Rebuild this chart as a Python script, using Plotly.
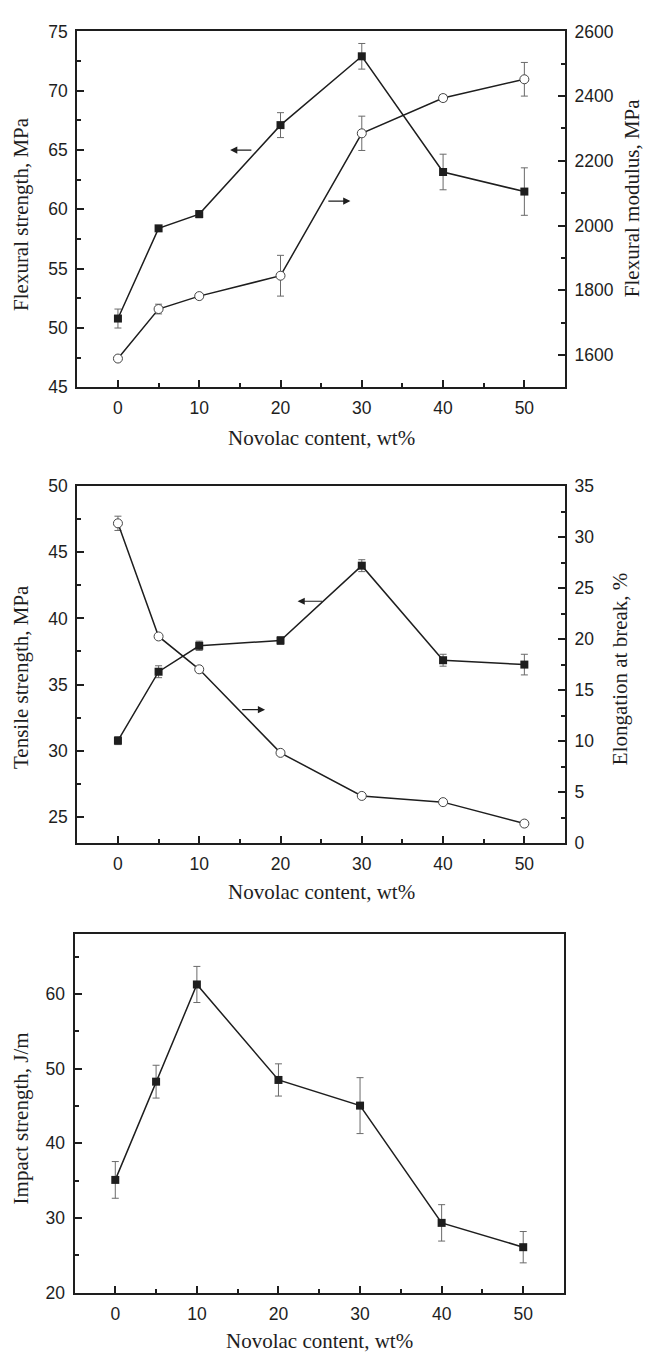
import plotly.graph_objects as go

# ---------------- data ----------------
novolac = [0, 5, 10, 20, 30, 40, 50]

flex_strength = [50.8, 58.4, 59.6, 67.1, 72.9, 63.15, 61.5]
flex_strength_err = [0.8, 0.2, 0.3, 1.05, 1.08, 1.5, 2.0]
flex_modulus = [1589, 1742, 1782, 1845, 2285, 2394, 2452]
flex_modulus_err = [5, 15, 8, 63, 53, 10, 52]

tensile_strength = [30.76, 35.97, 37.93, 38.33, 43.99, 36.84, 36.51]
tensile_strength_err = [0.3, 0.45, 0.35, 0.3, 0.45, 0.45, 0.78]
elongation = [31.36, 20.27, 17.05, 8.86, 4.64, 4.03, 1.93]
elongation_err = [0.7, 0.2, 0.25, 0.2, 0.2, 0.2, 0.3]

impact_strength = [35.1, 48.27, 61.3, 48.5, 45.06, 29.34, 26.08]
impact_strength_err = [2.46, 2.2, 2.42, 2.16, 3.75, 2.44, 2.1]

x_title = "Novolac content, wt%"
y_titles = ["Flexural strength, MPa", "Tensile strength, MPa", "Impact strength, J/m"]
y2_titles = ["Flexural modulus, MPa", "Elongation at break, %"]

# arrow annotations: (xref, yref, tail_x, tip_x, y)
arrows = [("x", "y", 16.6, 13.8, 65.0), ("x", "y", 25.7, 28.6, 60.7),
          ("x2", "y3", 25.3, 22.1, 41.3), ("x2", "y3", 15.1, 18.1, 33.1)]

# ---------------- style ----------------
W, H = 646, 1359
INK = "#1e1e1e"
ERR = "#6a6a6a"
TICKFONT = dict(family="Liberation Sans, Arial, sans-serif", size=17.5, color=INK)
TITLEFONT = dict(family="Liberation Serif, Times New Roman, serif", size=21, color=INK)


def px_x(p):
    return p / W


def px_y(p):
    return 1 - p / H


def sq_trace(y, err, xa, ya):
    return go.Scatter(
        x=novolac, y=y, xaxis=xa, yaxis=ya, mode="lines+markers",
        line=dict(color=INK, width=1.5),
        marker=dict(symbol="square", size=8, color=INK, line=dict(width=0)),
        error_y=dict(type="data", array=err, visible=True, color=ERR,
                     thickness=1, width=3.5),
        showlegend=False, cliponaxis=False)


def circ_trace(y, err, xa, ya):
    return go.Scatter(
        x=novolac, y=y, xaxis=xa, yaxis=ya, mode="lines+markers",
        line=dict(color=INK, width=1.5),
        marker=dict(symbol="circle", size=9, color="white",
                    line=dict(color="#444444", width=1)),
        error_y=dict(type="data", array=err, visible=True, color=ERR,
                     thickness=1, width=3.5),
        showlegend=False, cliponaxis=False)


fig = go.Figure()
fig.add_trace(circ_trace(flex_modulus, flex_modulus_err, "x", "y2"))
fig.add_trace(sq_trace(flex_strength, flex_strength_err, "x", "y"))
fig.add_trace(circ_trace(elongation, elongation_err, "x2", "y4"))
fig.add_trace(sq_trace(tensile_strength, tensile_strength_err, "x2", "y3"))
fig.add_trace(sq_trace(impact_strength, impact_strength_err, "x3", "y5"))


def xaxis(dom, anchor):
    return dict(domain=dom, anchor=anchor, range=[-5, 55], tickvals=[0, 10, 20, 30, 40, 50],
                ticks="inside", ticklen=7, tickwidth=1.5, tickcolor=INK,
                minor=dict(dtick=5, tick0=0, ticks="inside", ticklen=4, tickwidth=1.5, tickcolor=INK),
                showline=True, linecolor=INK, linewidth=2, mirror=True,
                showgrid=False, zeroline=False, tickfont=TICKFONT, ticklabelstandoff=4)


def yaxis(dom, anchor, rng, dtick, minor, side="left", overlaying=None, mirror=False):
    d = dict(domain=dom, anchor=anchor, range=rng, dtick=dtick, tick0=0,
             ticks="inside", ticklen=7, tickwidth=1.5, tickcolor=INK,
             minor=dict(dtick=minor, tick0=0, ticks="inside", ticklen=4, tickwidth=1.5, tickcolor=INK),
             showline=True, linecolor=INK, linewidth=2, mirror=mirror,
             showgrid=False, zeroline=False, tickfont=TICKFONT, side=side,
             ticklabelstandoff=4)
    if overlaying:
        d["overlaying"] = overlaying
    return d


xd12 = [px_x(77.3), px_x(565)]
xd3 = [px_x(74.5), px_x(564)]
yd1 = [px_y(383.0), px_y(21.7)]
yd2 = [px_y(845.7), px_y(483.3)]
yd3 = [px_y(1301.7), px_y(938.3)]

fig.update_layout(
    width=W, height=H, margin=dict(l=0, r=0, t=0, b=0),
    paper_bgcolor="white", plot_bgcolor="white",
    xaxis=xaxis(xd12, "y"),
    yaxis=yaxis(yd1, "x", [45, 75], 5, 2.5),
    yaxis2=yaxis(yd1, "x", [1500, 2600], 200, 100, side="right", overlaying="y"),
    xaxis2=xaxis(xd12, "y3"),
    yaxis3=yaxis(yd2, "x2", [23, 50], 5, 2.5),
    yaxis4=yaxis(yd2, "x2", [0, 35], 5, 2.5, side="right", overlaying="y3"),
    xaxis3=xaxis(xd3, "y5"),
    yaxis5=yaxis(yd3, "x3", [20, 68], 10, 5, mirror=True),
)

# axis titles as annotations (pixel-placed)
x_title_pos = [((77.3 + 565) / 2, 434), ((77.3 + 565) / 2, 895), ((74.5 + 564) / 2, 1351)]
for cx, cy in x_title_pos:
    fig.add_annotation(text=x_title, x=px_x(cx), y=px_y(cy), xref="paper", yref="paper",
                       showarrow=False, xanchor="center", yanchor="middle", font=TITLEFONT)

y_title_pos = [(21, 207), (21, 677), (21, 1125)]
for t, (cx, cy) in zip(y_titles, y_title_pos):
    fig.add_annotation(text=t, x=px_x(cx), y=px_y(cy), xref="paper", yref="paper",
                       showarrow=False, xanchor="center", yanchor="middle",
                       textangle=-90, font=TITLEFONT)

y2_title_pos = [(632, 191), (620, 669)]
for t, (cx, cy) in zip(y2_titles, y2_title_pos):
    fig.add_annotation(text=t, x=px_x(cx), y=px_y(cy), xref="paper", yref="paper",
                       showarrow=False, xanchor="center", yanchor="middle",
                       textangle=-90, font=TITLEFONT)

for xr, yr, tail, tip, yv in arrows:
    fig.add_annotation(x=tip, y=yv, ax=tail, ay=yv, xref=xr, yref=yr, axref=xr, ayref=yr,
                       showarrow=True, arrowhead=2, arrowsize=1.2, arrowwidth=1.2,
                       arrowcolor=INK, text="")

fig.write_html("out.html")
